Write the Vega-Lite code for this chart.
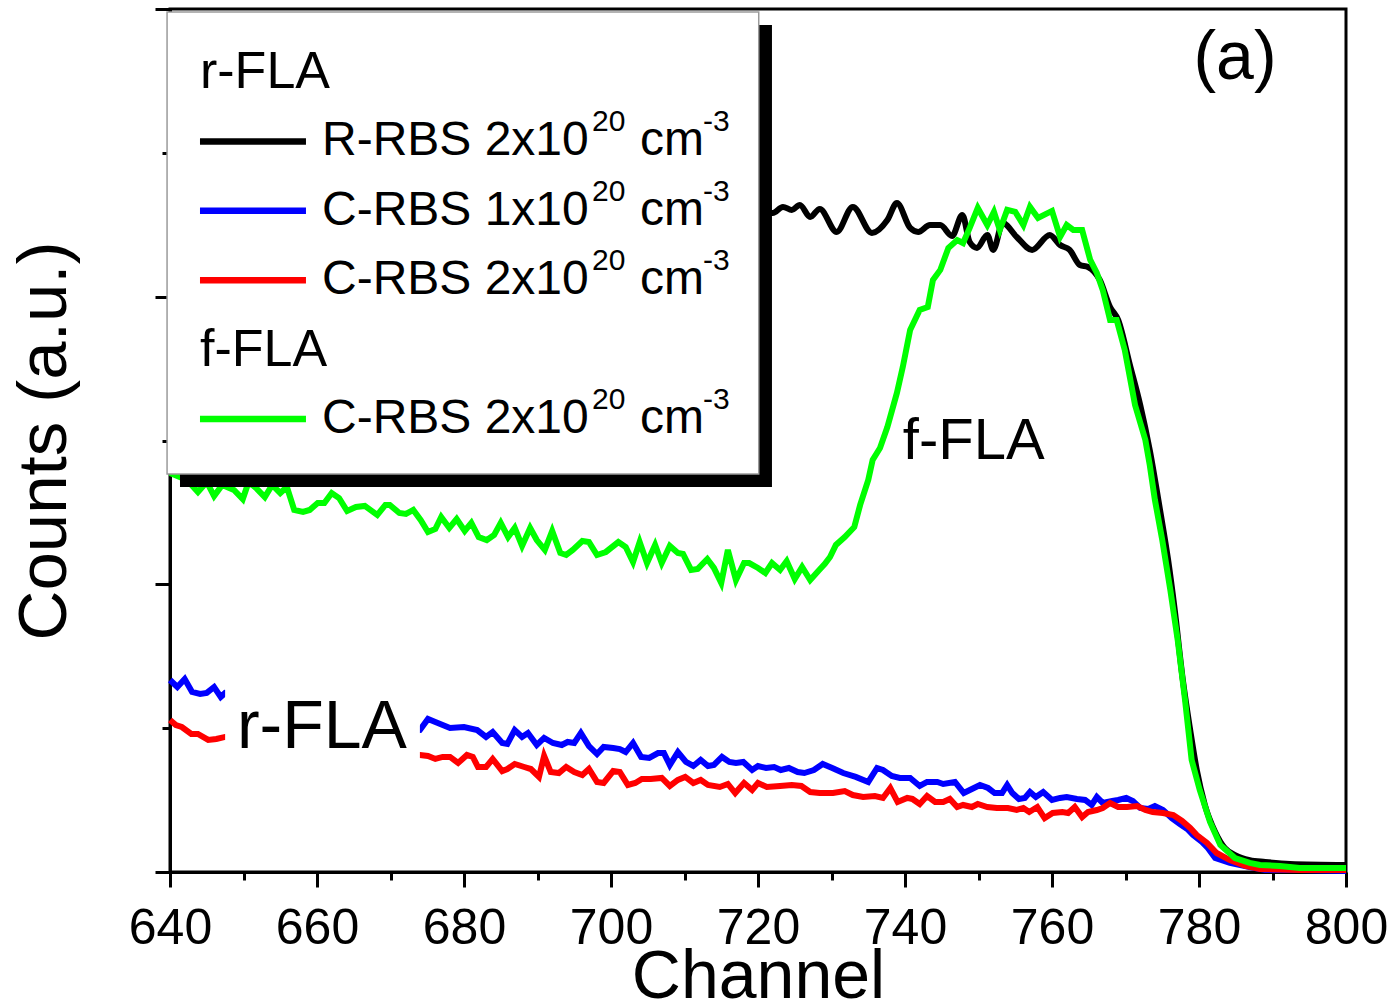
{
  "$schema": "https://vega.github.io/schema/vega-lite/v6.json",
  "width": 1176,
  "height": 863,
  "autosize": {"type": "none"},
  "padding": {"left": 170, "top": 9, "right": 47, "bottom": 136},
  "background": "white",
  "config": {"view": {"stroke": "black", "strokeWidth": 3}, "font": "Liberation Sans"},
  "datasets": {
    "black": [
      {"channel": 640, "counts": 4.70}, {"channel": 650, "counts": 4.68}, {"channel": 660, "counts": 4.66}, {"channel": 670, "counts": 4.64}, {"channel": 680, "counts": 4.62}, {"channel": 690, "counts": 4.61}, {"channel": 700, "counts": 4.60}, {"channel": 710, "counts": 4.58}, {"channel": 716, "counts": 4.58},
      {"channel": 722.0, "counts": 4.582}, {"channel": 723.4, "counts": 4.624}, {"channel": 724.6, "counts": 4.603}, {"channel": 725.7, "counts": 4.638}, {"channel": 727.1, "counts": 4.554}, {"channel": 728.4, "counts": 4.610}, {"channel": 730.7, "counts": 4.450}, {"channel": 732.9, "counts": 4.624}, {"channel": 735.5, "counts": 4.443}, {"channel": 737.6, "counts": 4.533}, {"channel": 738.9, "counts": 4.651}, {"channel": 740.7, "counts": 4.478}, {"channel": 741.8, "counts": 4.450}, {"channel": 743.4, "counts": 4.498}, {"channel": 744.8, "counts": 4.498}, {"channel": 746.4, "counts": 4.422}, {"channel": 747.8, "counts": 4.568}, {"channel": 748.8, "counts": 4.380}, {"channel": 749.8, "counts": 4.339}, {"channel": 751.2, "counts": 4.429}, {"channel": 752.0, "counts": 4.325}, {"channel": 753.3, "counts": 4.512}, {"channel": 755.2, "counts": 4.415}, {"channel": 757.3, "counts": 4.325}, {"channel": 759.7, "counts": 4.429}, {"channel": 761.1, "counts": 4.359}, {"channel": 762.4, "counts": 4.325}, {"channel": 763.8, "counts": 4.220}, {"channel": 764.9, "counts": 4.206}, {"channel": 766.5, "counts": 4.116}, {"channel": 767.9, "counts": 3.928}, {"channel": 769.0, "counts": 3.838}, {"channel": 770.6, "counts": 3.525}, {"channel": 772.0, "counts": 3.247}, {"channel": 773.3, "counts": 2.934}, {"channel": 774.7, "counts": 2.517}, {"channel": 775.8, "counts": 2.169}, {"channel": 776.7, "counts": 1.822}, {"channel": 777.8, "counts": 1.335}, {"channel": 778.8, "counts": 0.987}, {"channel": 779.7, "counts": 0.709}, {"channel": 780.8, "counts": 0.466}, {"channel": 782.2, "counts": 0.278}, {"channel": 783.5, "counts": 0.167}, {"channel": 784.9, "counts": 0.118}, {"channel": 786.9, "counts": 0.083}, {"channel": 789.0, "counts": 0.070}, {"channel": 792.4, "counts": 0.056}, {"channel": 800, "counts": 0.049}
    ],
    "blue": [
      {"channel": 640.0, "counts": 1.335}, {"channel": 641.0, "counts": 1.286}, {"channel": 642.0, "counts": 1.342}, {"channel": 643.0, "counts": 1.252}, {"channel": 644.1, "counts": 1.238}, {"channel": 645.0, "counts": 1.245}, {"channel": 646.0, "counts": 1.286}, {"channel": 646.9, "counts": 1.217}, {"channel": 647.5, "counts": 1.245}, {"channel": 655, "counts": 1.20}, {"channel": 665, "counts": 1.10}, {"channel": 670, "counts": 0.95},
      {"channel": 674.0, "counts": 0.987}, {"channel": 675.1, "counts": 1.064}, {"channel": 676.1, "counts": 1.043}, {"channel": 678.1, "counts": 1.001}, {"channel": 680.0, "counts": 1.008}, {"channel": 681.8, "counts": 0.987}, {"channel": 683.0, "counts": 0.939}, {"channel": 683.9, "counts": 0.973}, {"channel": 685.2, "counts": 0.897}, {"channel": 685.9, "counts": 0.890}, {"channel": 686.9, "counts": 0.987}, {"channel": 687.9, "counts": 0.939}, {"channel": 688.7, "counts": 0.966}, {"channel": 689.9, "counts": 0.883}, {"channel": 690.9, "counts": 0.932}, {"channel": 692.1, "counts": 0.897}, {"channel": 693.3, "counts": 0.883}, {"channel": 694.1, "counts": 0.904}, {"channel": 695.0, "counts": 0.897}, {"channel": 695.9, "counts": 0.966}, {"channel": 697.0, "counts": 0.876}, {"channel": 698.1, "counts": 0.820}, {"channel": 699.0, "counts": 0.869}, {"channel": 700.3, "counts": 0.862}, {"channel": 701.2, "counts": 0.855}, {"channel": 702.0, "counts": 0.834}, {"channel": 703.0, "counts": 0.897}, {"channel": 704.1, "counts": 0.800}, {"channel": 705.2, "counts": 0.793}, {"channel": 706.4, "counts": 0.827}, {"channel": 707.2, "counts": 0.827}, {"channel": 708.0, "counts": 0.744}, {"channel": 709.1, "counts": 0.834}, {"channel": 710.2, "counts": 0.765}, {"channel": 711.2, "counts": 0.737}, {"channel": 712.2, "counts": 0.779}, {"channel": 713.2, "counts": 0.737}, {"channel": 714.0, "counts": 0.744}, {"channel": 715.1, "counts": 0.800}, {"channel": 716.1, "counts": 0.765}, {"channel": 717.0, "counts": 0.758}, {"channel": 718.0, "counts": 0.765}, {"channel": 719.2, "counts": 0.709}, {"channel": 720.0, "counts": 0.737}, {"channel": 721.1, "counts": 0.723}, {"channel": 722.2, "counts": 0.730}, {"channel": 723.1, "counts": 0.709}, {"channel": 724.2, "counts": 0.723}, {"channel": 725.4, "counts": 0.695}, {"channel": 726.3, "counts": 0.688}, {"channel": 727.6, "counts": 0.709}, {"channel": 728.8, "counts": 0.751}, {"channel": 730.1, "counts": 0.723}, {"channel": 731.6, "counts": 0.688}, {"channel": 733.3, "counts": 0.661}, {"channel": 735.0, "counts": 0.626}, {"channel": 736.2, "counts": 0.723}, {"channel": 737.0, "counts": 0.709}, {"channel": 738.2, "counts": 0.668}, {"channel": 739.3, "counts": 0.654}, {"channel": 740.7, "counts": 0.654}, {"channel": 742.0, "counts": 0.598}, {"channel": 743.0, "counts": 0.626}, {"channel": 744.4, "counts": 0.626}, {"channel": 745.2, "counts": 0.612}, {"channel": 746.8, "counts": 0.626}, {"channel": 748.0, "counts": 0.549}, {"channel": 749.1, "counts": 0.577}, {"channel": 750.2, "counts": 0.605}, {"channel": 751.3, "counts": 0.584}, {"channel": 752.2, "counts": 0.549}, {"channel": 753.2, "counts": 0.549}, {"channel": 753.9, "counts": 0.605}, {"channel": 754.6, "counts": 0.549}, {"channel": 755.5, "counts": 0.508}, {"channel": 756.3, "counts": 0.515}, {"channel": 757.0, "counts": 0.556}, {"channel": 757.8, "counts": 0.521}, {"channel": 758.8, "counts": 0.556}, {"channel": 760.0, "counts": 0.501}, {"channel": 761.1, "counts": 0.515}, {"channel": 762.0, "counts": 0.521}, {"channel": 763.4, "counts": 0.508}, {"channel": 764.5, "counts": 0.501}, {"channel": 765.4, "counts": 0.466}, {"channel": 766.1, "counts": 0.521}, {"channel": 766.9, "counts": 0.480}, {"channel": 768.2, "counts": 0.494}, {"channel": 769.0, "counts": 0.501}, {"channel": 770.1, "counts": 0.515}, {"channel": 771.0, "counts": 0.494}, {"channel": 772.0, "counts": 0.445}, {"channel": 773.1, "counts": 0.438}, {"channel": 774.0, "counts": 0.459}, {"channel": 775.1, "counts": 0.431}, {"channel": 776.3, "counts": 0.375}, {"channel": 777.4, "counts": 0.334}, {"channel": 778.4, "counts": 0.299}, {"channel": 779.2, "counts": 0.257}, {"channel": 780.4, "counts": 0.209}, {"channel": 781.2, "counts": 0.167}, {"channel": 782.2, "counts": 0.097}, {"channel": 784.2, "counts": 0.063}, {"channel": 786.9, "counts": 0.035}, {"channel": 789.0, "counts": 0.014}, {"channel": 793.7, "counts": 0.014}, {"channel": 800, "counts": 0.007}
    ],
    "red": [
      {"channel": 640.0, "counts": 1.057}, {"channel": 640.8, "counts": 1.022}, {"channel": 641.6, "counts": 1.008}, {"channel": 642.9, "counts": 0.960}, {"channel": 643.8, "counts": 0.960}, {"channel": 645.2, "counts": 0.918}, {"channel": 646.3, "counts": 0.925}, {"channel": 647.5, "counts": 0.939}, {"channel": 660, "counts": 0.88}, {"channel": 670, "counts": 0.83},
      {"channel": 674.0, "counts": 0.814}, {"channel": 675.1, "counts": 0.807}, {"channel": 676.1, "counts": 0.786}, {"channel": 677.1, "counts": 0.800}, {"channel": 678.1, "counts": 0.800}, {"channel": 679.2, "counts": 0.758}, {"channel": 680.4, "counts": 0.814}, {"channel": 681.2, "counts": 0.800}, {"channel": 681.9, "counts": 0.730}, {"channel": 683.0, "counts": 0.730}, {"channel": 683.9, "counts": 0.786}, {"channel": 685.2, "counts": 0.702}, {"channel": 685.9, "counts": 0.716}, {"channel": 686.9, "counts": 0.751}, {"channel": 688.2, "counts": 0.730}, {"channel": 689.1, "counts": 0.716}, {"channel": 690.2, "counts": 0.661}, {"channel": 690.9, "counts": 0.807}, {"channel": 691.8, "counts": 0.695}, {"channel": 692.9, "counts": 0.688}, {"channel": 693.9, "counts": 0.730}, {"channel": 695.0, "counts": 0.695}, {"channel": 696.1, "counts": 0.674}, {"channel": 697.0, "counts": 0.716}, {"channel": 698.1, "counts": 0.626}, {"channel": 699.0, "counts": 0.619}, {"channel": 700.3, "counts": 0.702}, {"channel": 701.2, "counts": 0.695}, {"channel": 702.3, "counts": 0.605}, {"channel": 703.3, "counts": 0.619}, {"channel": 704.2, "counts": 0.647}, {"channel": 705.4, "counts": 0.647}, {"channel": 706.9, "counts": 0.654}, {"channel": 708.0, "counts": 0.598}, {"channel": 709.1, "counts": 0.640}, {"channel": 710.1, "counts": 0.661}, {"channel": 711.2, "counts": 0.619}, {"channel": 712.2, "counts": 0.640}, {"channel": 713.2, "counts": 0.605}, {"channel": 714.8, "counts": 0.591}, {"channel": 715.9, "counts": 0.612}, {"channel": 716.9, "counts": 0.549}, {"channel": 718.1, "counts": 0.619}, {"channel": 719.2, "counts": 0.570}, {"channel": 720.0, "counts": 0.619}, {"channel": 721.2, "counts": 0.591}, {"channel": 723.0, "counts": 0.598}, {"channel": 724.6, "counts": 0.605}, {"channel": 725.9, "counts": 0.598}, {"channel": 727.1, "counts": 0.556}, {"channel": 728.4, "counts": 0.549}, {"channel": 730.2, "counts": 0.549}, {"channel": 731.8, "counts": 0.563}, {"channel": 732.9, "counts": 0.535}, {"channel": 734.3, "counts": 0.521}, {"channel": 735.9, "counts": 0.528}, {"channel": 737.0, "counts": 0.515}, {"channel": 738.0, "counts": 0.584}, {"channel": 739.0, "counts": 0.487}, {"channel": 740.3, "counts": 0.515}, {"channel": 741.0, "counts": 0.508}, {"channel": 742.0, "counts": 0.473}, {"channel": 743.0, "counts": 0.528}, {"channel": 744.1, "counts": 0.487}, {"channel": 745.2, "counts": 0.487}, {"channel": 746.1, "counts": 0.508}, {"channel": 747.1, "counts": 0.452}, {"channel": 747.9, "counts": 0.466}, {"channel": 749.1, "counts": 0.452}, {"channel": 749.9, "counts": 0.473}, {"channel": 751.2, "counts": 0.452}, {"channel": 752.5, "counts": 0.445}, {"channel": 754.0, "counts": 0.445}, {"channel": 755.2, "counts": 0.431}, {"channel": 756.1, "counts": 0.445}, {"channel": 756.9, "counts": 0.417}, {"channel": 758.0, "counts": 0.452}, {"channel": 759.0, "counts": 0.375}, {"channel": 760.1, "counts": 0.410}, {"channel": 761.4, "counts": 0.417}, {"channel": 762.2, "counts": 0.410}, {"channel": 763.1, "counts": 0.452}, {"channel": 764.1, "counts": 0.382}, {"channel": 764.9, "counts": 0.417}, {"channel": 766.1, "counts": 0.431}, {"channel": 766.9, "counts": 0.445}, {"channel": 767.9, "counts": 0.480}, {"channel": 769.0, "counts": 0.452}, {"channel": 770.2, "counts": 0.452}, {"channel": 771.6, "counts": 0.459}, {"channel": 772.7, "counts": 0.431}, {"channel": 773.7, "counts": 0.417}, {"channel": 775.1, "counts": 0.410}, {"channel": 776.5, "counts": 0.396}, {"channel": 777.7, "counts": 0.355}, {"channel": 778.8, "counts": 0.306}, {"channel": 779.7, "counts": 0.257}, {"channel": 781.1, "counts": 0.202}, {"channel": 782.4, "counts": 0.132}, {"channel": 784.2, "counts": 0.083}, {"channel": 786.3, "counts": 0.042}, {"channel": 788.3, "counts": 0.021}, {"channel": 793.7, "counts": 0.014}, {"channel": 800, "counts": 0.014}
    ],
    "green": [
      {"channel": 640.0, "counts": 2.774}, {"channel": 642.3, "counts": 2.726}, {"channel": 643.8, "counts": 2.642}, {"channel": 645.0, "counts": 2.712}, {"channel": 646.0, "counts": 2.614}, {"channel": 647.1, "counts": 2.691}, {"channel": 648.7, "counts": 2.656}, {"channel": 649.9, "counts": 2.593}, {"channel": 650.7, "counts": 2.712}, {"channel": 651.7, "counts": 2.670}, {"channel": 652.9, "counts": 2.607}, {"channel": 653.9, "counts": 2.691}, {"channel": 655.0, "counts": 2.635}, {"channel": 655.9, "counts": 2.677}, {"channel": 656.9, "counts": 2.517}, {"channel": 658.1, "counts": 2.503}, {"channel": 659.0, "counts": 2.517}, {"channel": 660.1, "counts": 2.566}, {"channel": 661.0, "counts": 2.566}, {"channel": 662.0, "counts": 2.635}, {"channel": 663.0, "counts": 2.600}, {"channel": 664.1, "counts": 2.510}, {"channel": 665.3, "counts": 2.538}, {"channel": 666.5, "counts": 2.545}, {"channel": 668.2, "counts": 2.482}, {"channel": 669.3, "counts": 2.552}, {"channel": 669.9, "counts": 2.552}, {"channel": 671.2, "counts": 2.496}, {"channel": 672.1, "counts": 2.489}, {"channel": 673.1, "counts": 2.517}, {"channel": 674.1, "counts": 2.447}, {"channel": 675.1, "counts": 2.364}, {"channel": 676.1, "counts": 2.385}, {"channel": 676.9, "counts": 2.468}, {"channel": 678.0, "counts": 2.392}, {"channel": 679.0, "counts": 2.454}, {"channel": 680.1, "counts": 2.371}, {"channel": 681.0, "counts": 2.427}, {"channel": 682.0, "counts": 2.329}, {"channel": 683.1, "counts": 2.308}, {"channel": 684.1, "counts": 2.343}, {"channel": 685.0, "counts": 2.427}, {"channel": 686.0, "counts": 2.329}, {"channel": 686.9, "counts": 2.392}, {"channel": 687.9, "counts": 2.267}, {"channel": 689.0, "counts": 2.392}, {"channel": 689.9, "counts": 2.308}, {"channel": 691.0, "counts": 2.239}, {"channel": 692.0, "counts": 2.371}, {"channel": 693.1, "counts": 2.218}, {"channel": 693.9, "counts": 2.204}, {"channel": 694.8, "counts": 2.239}, {"channel": 696.1, "counts": 2.301}, {"channel": 697.0, "counts": 2.294}, {"channel": 698.1, "counts": 2.204}, {"channel": 699.3, "counts": 2.225}, {"channel": 701.0, "counts": 2.294}, {"channel": 702.0, "counts": 2.260}, {"channel": 703.0, "counts": 2.155}, {"channel": 703.9, "counts": 2.294}, {"channel": 704.9, "counts": 2.148}, {"channel": 706.0, "counts": 2.274}, {"channel": 706.9, "counts": 2.148}, {"channel": 708.0, "counts": 2.267}, {"channel": 709.1, "counts": 2.218}, {"channel": 709.8, "counts": 2.211}, {"channel": 710.9, "counts": 2.100}, {"channel": 711.8, "counts": 2.107}, {"channel": 713.1, "counts": 2.176}, {"channel": 714.0, "counts": 2.114}, {"channel": 715.0, "counts": 2.009}, {"channel": 715.9, "counts": 2.239}, {"channel": 717.0, "counts": 2.030}, {"channel": 718.1, "counts": 2.148}, {"channel": 718.8, "counts": 2.148}, {"channel": 720.0, "counts": 2.114}, {"channel": 721.0, "counts": 2.079}, {"channel": 721.9, "counts": 2.148}, {"channel": 723.0, "counts": 2.100}, {"channel": 723.9, "counts": 2.162}, {"channel": 725.0, "counts": 2.037}, {"channel": 726.0, "counts": 2.121}, {"channel": 727.1, "counts": 2.030}, {"channel": 728.2, "counts": 2.093}, {"channel": 729.1, "counts": 2.142}, {"channel": 729.8, "counts": 2.190}, {"channel": 730.6, "counts": 2.274}, {"channel": 731.8, "counts": 2.329}, {"channel": 733.1, "counts": 2.399}, {"channel": 733.9, "counts": 2.552}, {"channel": 735.0, "counts": 2.726}, {"channel": 735.6, "counts": 2.865}, {"channel": 736.6, "counts": 2.948}, {"channel": 737.6, "counts": 3.094}, {"channel": 738.9, "counts": 3.331}, {"channel": 739.7, "counts": 3.511}, {"channel": 740.7, "counts": 3.769}, {"channel": 742.0, "counts": 3.908}, {"channel": 743.1, "counts": 3.928}, {"channel": 743.8, "counts": 4.116}, {"channel": 744.8, "counts": 4.186}, {"channel": 745.9, "counts": 4.339}, {"channel": 747.1, "counts": 4.394}, {"channel": 747.9, "counts": 4.373}, {"channel": 748.8, "counts": 4.478}, {"channel": 749.9, "counts": 4.617}, {"channel": 751.2, "counts": 4.498}, {"channel": 752.1, "counts": 4.589}, {"channel": 752.9, "counts": 4.464}, {"channel": 753.9, "counts": 4.603}, {"channel": 755.0, "counts": 4.589}, {"channel": 756.1, "counts": 4.498}, {"channel": 757.0, "counts": 4.624}, {"channel": 758.1, "counts": 4.547}, {"channel": 760.0, "counts": 4.596}, {"channel": 761.1, "counts": 4.415}, {"channel": 762.0, "counts": 4.498}, {"channel": 762.9, "counts": 4.464}, {"channel": 764.1, "counts": 4.464}, {"channel": 765.2, "counts": 4.255}, {"channel": 766.1, "counts": 4.165}, {"channel": 766.9, "counts": 4.047}, {"channel": 767.9, "counts": 3.838}, {"channel": 768.8, "counts": 3.838}, {"channel": 769.9, "counts": 3.629}, {"channel": 771.3, "counts": 3.247}, {"channel": 772.7, "counts": 3.004}, {"channel": 773.3, "counts": 2.830}, {"channel": 774.0, "counts": 2.587}, {"channel": 775.0, "counts": 2.308}, {"channel": 776.1, "counts": 1.961}, {"channel": 777.1, "counts": 1.613}, {"channel": 778.1, "counts": 1.196}, {"channel": 779.0, "counts": 0.779}, {"channel": 780.1, "counts": 0.570}, {"channel": 781.5, "counts": 0.348}, {"channel": 782.9, "counts": 0.188}, {"channel": 784.9, "counts": 0.097}, {"channel": 786.9, "counts": 0.063}, {"channel": 788.3, "counts": 0.049}, {"channel": 791.0, "counts": 0.042}, {"channel": 793.7, "counts": 0.028}, {"channel": 800, "counts": 0.028}
    ],
    "legendItems": [
      {"row": 1, "series": "r-FLA R-RBS 2e20", "main": "R-RBS 2x10", "sup": "20", "unit": "cm", "sup2": "-3"},
      {"row": 2, "series": "r-FLA C-RBS 1e20", "main": "C-RBS 1x10", "sup": "20", "unit": "cm", "sup2": "-3"},
      {"row": 3, "series": "r-FLA C-RBS 2e20", "main": "C-RBS 2x10", "sup": "20", "unit": "cm", "sup2": "-3"},
      {"row": 5, "series": "f-FLA C-RBS 2e20", "main": "C-RBS 2x10", "sup": "20", "unit": "cm", "sup2": "-3"}
    ],
    "legendHeaders": [
      {"row": 0, "header": "r-FLA"},
      {"row": 4, "header": "f-FLA"}
    ]
  },
  "layer": [
    {
      "layer": [
        {
          "data": {"name": "black"},
          "mark": {"type": "line", "color": "#000000", "strokeWidth": 6, "interpolate": "monotone"},
          "encoding": {
            "x": {
              "field": "channel", "type": "quantitative",
              "scale": {"domain": [640, 800], "nice": false, "zero": false},
              "axis": {
                "title": "Channel",
                "values": [640, 650, 660, 670, 680, 690, 700, 710, 720, 730, 740, 750, 760, 770, 780, 790, 800],
                "labelExpr": "datum.value % 20 === 0 ? datum.label : ''",
                "grid": false, "domainColor": "black", "domainWidth": 3,
                "tickColor": "black", "tickWidth": 3,
                "tickSize": {"condition": {"test": "datum.value % 20 === 0", "value": 15}, "value": 8},
                "labelFont": "Liberation Sans", "labelFontSize": 50, "labelColor": "black",
                "labelPadding": 16, "labelFlush": false, "labelOverlap": false,
                "titleFont": "Liberation Sans", "titleFontSize": 68, "titleFontWeight": "normal", "titleColor": "black",
                "titlePadding": -10
              }
            },
            "y": {
              "field": "counts", "type": "quantitative",
              "scale": {"domain": [0, 6], "nice": false, "zero": false},
              "axis": {
                "title": "Counts (a.u.)",
                "values": [0, 1, 2, 3, 4, 5, 6],
                "labels": false, "grid": false,
                "domainColor": "black", "domainWidth": 3,
                "tickColor": "black", "tickWidth": 3,
                "tickSize": {"condition": {"test": "datum.value % 2 === 0", "value": 15}, "value": 8},
                "titleFont": "Liberation Sans", "titleFontSize": 69, "titleFontWeight": "normal", "titleColor": "black",
                "titlePadding": 74
              }
            }
          }
        },
        {
          "data": {"name": "blue"},
          "mark": {"type": "line", "color": "#0000FF", "strokeWidth": 6},
          "encoding": {"x": {"field": "channel", "type": "quantitative"}, "y": {"field": "counts", "type": "quantitative"}}
        },
        {
          "data": {"name": "red"},
          "mark": {"type": "line", "color": "#FF0000", "strokeWidth": 6},
          "encoding": {"x": {"field": "channel", "type": "quantitative"}, "y": {"field": "counts", "type": "quantitative"}}
        },
        {
          "data": {"name": "green"},
          "mark": {"type": "line", "color": "#00FF00", "strokeWidth": 6},
          "encoding": {"x": {"field": "channel", "type": "quantitative"}, "y": {"field": "counts", "type": "quantitative"}}
        },
        {
          "data": {"values": [{"part": "legend shadow"}]},
          "mark": {"type": "rect", "color": "#000000"},
          "encoding": {"x": {"datum": 641.36}, "x2": {"datum": 721.9}, "y": {"datum": 5.889}, "y2": {"datum": 2.677}}
        },
        {
          "data": {"values": [{"part": "legend box"}]},
          "mark": {"type": "rect", "fill": "#ffffff", "stroke": "#9a9a9a", "strokeWidth": 1.5},
          "encoding": {"x": {"datum": 639.6}, "x2": {"datum": 720.1}, "y": {"datum": 5.98}, "y2": {"datum": 2.767}}
        },
        {
          "data": {"values": [{"part": "label backdrop"}]},
          "mark": {"type": "rect", "fill": "#ffffff"},
          "encoding": {"x": {"datum": 647.5}, "x2": {"datum": 674.0}, "y": {"datum": 1.404}, "y2": {"datum": 0.674}}
        },
        {
          "data": {"values": [{"label": "r-FLA"}]},
          "mark": {"type": "text", "font": "Liberation Sans", "fontSize": 68, "align": "left", "baseline": "middle", "color": "black"},
          "encoding": {"x": {"datum": 649.1}, "y": {"datum": 1.0}, "text": {"field": "label"}}
        },
        {
          "data": {"values": [{"label": "f-FLA"}]},
          "mark": {"type": "text", "font": "Liberation Sans", "fontSize": 58, "align": "left", "baseline": "middle", "color": "black"},
          "encoding": {"x": {"datum": 739.7}, "y": {"datum": 2.99}, "text": {"field": "label"}}
        },
        {
          "data": {"values": [{"label": "(a)"}]},
          "mark": {"type": "text", "font": "Liberation Sans", "fontSize": 68, "align": "center", "baseline": "middle", "color": "black"},
          "encoding": {"x": {"datum": 784.9}, "y": {"datum": 5.655}, "text": {"field": "label"}}
        }
      ]
    },
    {
      "encoding": {
        "y": {"field": "row", "type": "quantitative", "scale": {"domain": [-0.908, 11.527], "reverse": true, "nice": false, "zero": false}, "axis": null}
      },
      "layer": [
        {
          "data": {"name": "legendHeaders"},
          "mark": {"type": "text", "font": "Liberation Sans", "fontSize": 52, "align": "left", "baseline": "middle", "color": "black"},
          "encoding": {"x": {"datum": 644.08}, "text": {"field": "header"}}
        },
        {
          "data": {"name": "legendItems"},
          "mark": {"type": "rule", "strokeWidth": 6.5},
          "encoding": {
            "x": {"datum": 644.08}, "x2": {"datum": 658.5},
            "color": {"field": "series", "type": "nominal", "legend": null,
              "scale": {"domain": ["r-FLA R-RBS 2e20", "r-FLA C-RBS 1e20", "r-FLA C-RBS 2e20", "f-FLA C-RBS 2e20"], "range": ["#000000", "#0000FF", "#FF0000", "#00FF00"]}}
          }
        },
        {
          "data": {"name": "legendItems"},
          "mark": {"type": "text", "font": "Liberation Sans", "fontSize": 48, "align": "left", "baseline": "middle", "color": "black"},
          "encoding": {"x": {"datum": 660.68}, "text": {"field": "main"}}
        },
        {
          "data": {"name": "legendItems"},
          "mark": {"type": "text", "font": "Liberation Sans", "fontSize": 30, "align": "left", "baseline": "middle", "color": "black", "dy": -19},
          "encoding": {"x": {"datum": 697.41}, "text": {"field": "sup"}}
        },
        {
          "data": {"name": "legendItems"},
          "mark": {"type": "text", "font": "Liberation Sans", "fontSize": 48, "align": "left", "baseline": "middle", "color": "black"},
          "encoding": {"x": {"datum": 703.95}, "text": {"field": "unit"}}
        },
        {
          "data": {"name": "legendItems"},
          "mark": {"type": "text", "font": "Liberation Sans", "fontSize": 30, "align": "left", "baseline": "middle", "color": "black", "dy": -19},
          "encoding": {"x": {"datum": 712.52}, "text": {"field": "sup2"}}
        }
      ]
    }
  ],
  "resolve": {"scale": {"y": "independent"}, "axis": {"y": "independent"}}
}
